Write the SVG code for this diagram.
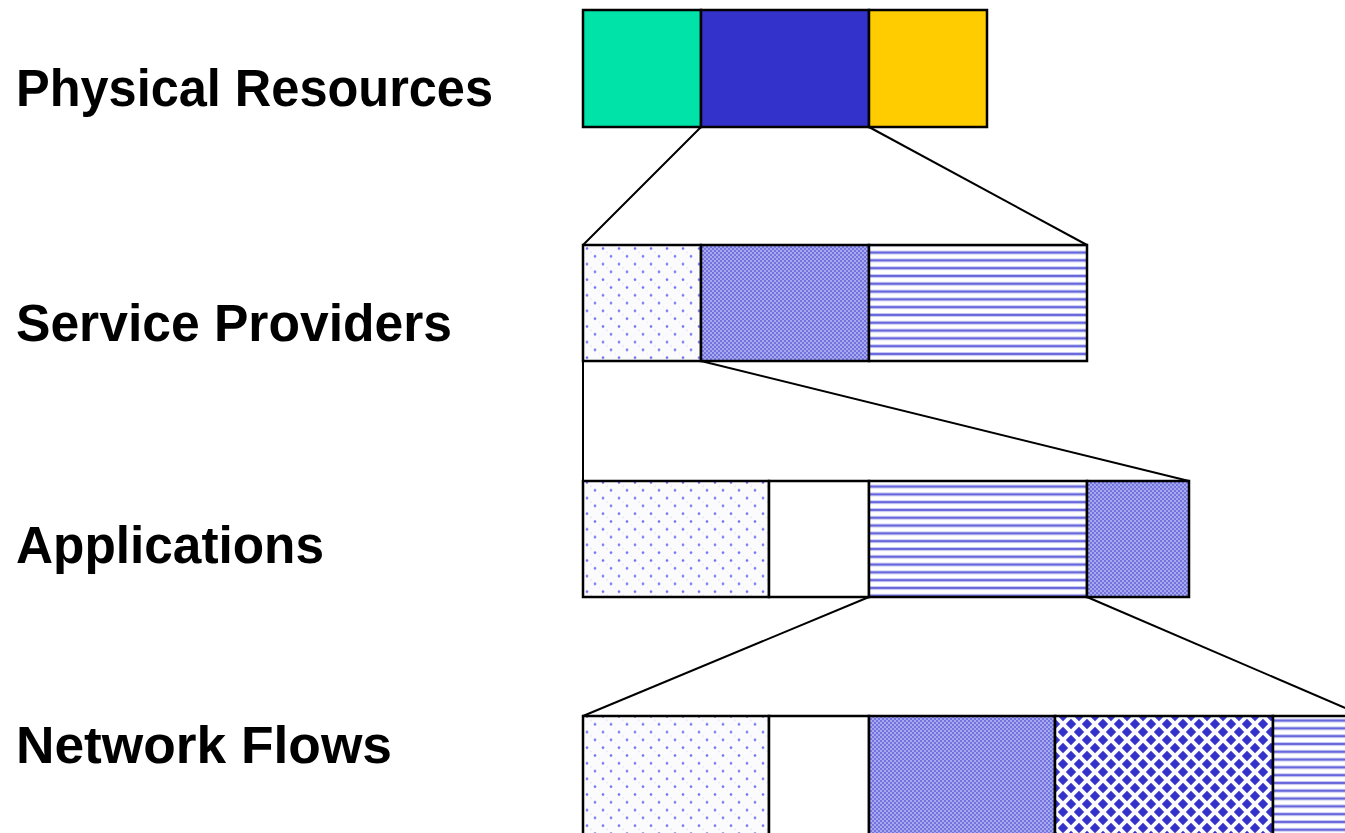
<svg xmlns="http://www.w3.org/2000/svg" width="1345" height="833" viewBox="0 0 1345 833">
<style>
.lbl{font-family:"Liberation Sans",Arial,sans-serif;font-weight:bold;font-size:51px;fill:#000}
.box{stroke:#000;stroke-width:2.5}
.conn{stroke:#000;stroke-width:2;fill:none}
</style>
<defs>
<pattern id="dots" patternUnits="userSpaceOnUse" x="583" y="245" width="16" height="15.6">
<rect width="16" height="15.6" fill="#fbfbfe"/>
<circle cx="4" cy="3.5" r="1.3" fill="#7070ee"/>
<circle cx="12" cy="11.3" r="1.3" fill="#7070ee"/>
<circle cx="8" cy="7.4" r="1" fill="#e8e8fa"/>
<circle cx="0" cy="15.2" r="1" fill="#e8e8fa"/>
</pattern>
<pattern id="check" patternUnits="userSpaceOnUse" width="4" height="4">
<rect width="4" height="4" fill="#a8a8ee"/>
<rect width="2" height="2" fill="#7373dd"/>
<rect x="2" y="2" width="2" height="2" fill="#7373dd"/>
</pattern>
<pattern id="stripes" patternUnits="userSpaceOnUse" x="0" y="1" width="8" height="7.8">
<rect width="8" height="7.8" fill="#ffffff"/>
<rect y="0" width="8" height="1" fill="#c6c6f2"/>
<rect y="1" width="8" height="2" fill="#6565dd"/>
<rect y="3" width="8" height="1" fill="#c6c6f2"/>
</pattern>
<pattern id="diam" patternUnits="userSpaceOnUse" x="1055" y="716" width="16" height="16">
<rect width="16" height="16" fill="#fbfbfe"/>
<g fill="#3333cc">
<polygon points="8,-5.2 13.2,0 8,5.2 2.8,0"/>
<polygon points="8,10.8 13.2,16 8,21.2 2.8,16"/>
<polygon points="0,2.8 5.2,8 0,13.2 -5.2,8"/>
<polygon points="16,2.8 21.2,8 16,13.2 10.8,8"/>
</g>
</pattern>
</defs>

<rect width="1345" height="833" fill="#ffffff"/>

<g id="connectors">
<line class="conn" x1="701" y1="127" x2="583" y2="245"/>
<line class="conn" x1="869" y1="127" x2="1087" y2="245"/>
<line class="conn" x1="583" y1="361" x2="583" y2="481"/>
<line class="conn" x1="701" y1="361" x2="1189" y2="481"/>
<line class="conn" x1="869" y1="597" x2="583" y2="716"/>
<line class="conn" x1="1087" y1="597" x2="1364" y2="716"/>
</g>

<g id="label-physical"><text class="lbl" x="16" y="106" textLength="477" lengthAdjust="spacingAndGlyphs">Physical Resources</text></g>
<g id="label-service"><text class="lbl" x="16" y="341" textLength="436" lengthAdjust="spacingAndGlyphs">Service Providers</text></g>
<g id="label-applications"><text class="lbl" x="16" y="563" textLength="308" lengthAdjust="spacingAndGlyphs">Applications</text></g>
<g id="label-network"><text class="lbl" x="16" y="763" textLength="376" lengthAdjust="spacingAndGlyphs">Network Flows</text></g>

<g id="physical-resources">
<rect class="box" x="583" y="10" width="118" height="117" fill="#00e3a8"/>
<rect class="box" x="701" y="10" width="168" height="117" fill="#3333cc"/>
<rect class="box" x="869" y="10" width="118" height="117" fill="#ffcc00"/>
</g>

<g id="service-providers">
<rect class="box" x="583" y="245" width="118" height="116" fill="url(#dots)"/>
<rect class="box" x="701" y="245" width="168" height="116" fill="url(#check)"/>
<rect class="box" x="869" y="245" width="218" height="116" fill="url(#stripes)"/>
</g>

<g id="applications">
<rect class="box" x="583" y="481" width="186" height="116" fill="url(#dots)"/>
<rect class="box" x="769" y="481" width="100" height="116" fill="#ffffff"/>
<rect class="box" x="869" y="481" width="218" height="116" fill="url(#stripes)"/>
<rect class="box" x="1087" y="481" width="102" height="116" fill="url(#check)"/>
</g>

<g id="network-flows">
<rect class="box" x="583" y="716" width="186" height="140" fill="url(#dots)"/>
<rect class="box" x="769" y="716" width="100" height="140" fill="#ffffff"/>
<rect class="box" x="869" y="716" width="186" height="140" fill="url(#check)"/>
<rect class="box" x="1055" y="716" width="218" height="140" fill="url(#diam)"/>
<rect class="box" x="1273" y="716" width="120" height="140" fill="url(#stripes)"/>
</g>
</svg>
